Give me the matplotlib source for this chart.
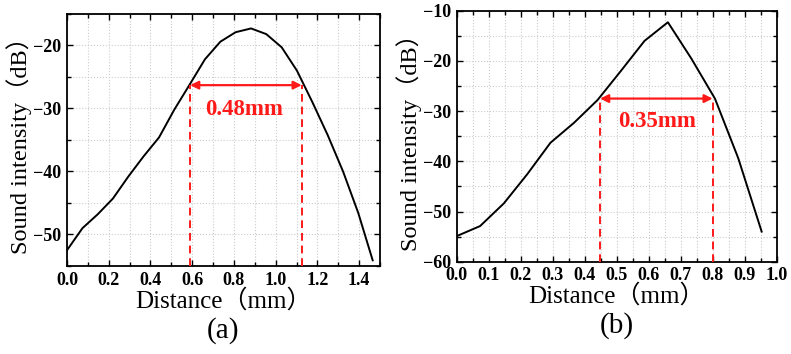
import matplotlib
matplotlib.use('Agg')
import matplotlib.pyplot as plt
from matplotlib.ticker import MultipleLocator

plt.rcParams['font.family'] = ['Liberation Serif', 'Noto Sans CJK SC']
plt.rcParams['axes.unicode_minus'] = True

# panel (a)
xa = [0.0, 0.074, 0.147, 0.22, 0.294, 0.367, 0.441, 0.514, 0.588, 0.661, 0.735,
      0.808, 0.882, 0.955, 1.029, 1.102, 1.176, 1.249, 1.323, 1.396, 1.465]
ya = [-52.5, -49.0, -46.8, -44.3, -40.8, -37.6, -34.6, -30.2, -26.2, -22.2, -19.4,
      -17.9, -17.3, -18.2, -20.3, -24.0, -29.0, -34.2, -40.0, -46.6, -54.1]
fwhm_a = [0.59, 1.125]
lvl_a = -26.3
lbl_a = '0.48mm'

# panel (b)
xb = [0.0, 0.073, 0.147, 0.22, 0.293, 0.367, 0.44, 0.513, 0.587, 0.66,
      0.733, 0.807, 0.88, 0.953]
yb = [-54.9, -52.9, -48.4, -42.6, -36.3, -32.3, -27.8, -22.0, -16.0, -12.3,
      -19.5, -27.5, -39.4, -54.0]
fwhm_b = [0.448, 0.80]
lvl_b = -27.5
lbl_b = '0.35mm'

fig = plt.figure(figsize=(7.91, 3.54), dpi=100)
ax1 = fig.add_axes([0.0847, 0.2486, 0.3957, 0.712])
ax2 = fig.add_axes([0.5774, 0.2607, 0.4045, 0.709])

red = '#ff1a1a'

def panel(ax, x, y, fw, lvl, lbl, xlim, ylim, xmaj, xmin, ymaj, tag, txy):
    ax.plot(x, y, color='black', lw=1.4, zorder=3)
    ax.set_xlim(*xlim)
    ax.set_ylim(*ylim)
    ax.xaxis.set_major_locator(MultipleLocator(xmaj))
    ax.xaxis.set_minor_locator(MultipleLocator(xmin))
    ax.yaxis.set_major_locator(MultipleLocator(ymaj))
    ax.yaxis.set_minor_locator(MultipleLocator(ymaj / 2))
    ax.xaxis.set_major_formatter(lambda v, p: f'{v:.1f}')
    ax.yaxis.set_major_formatter(lambda v, p: f'\u2212{abs(v):.0f}' if v < 0 else f'{v:.0f}')
    ax.grid(True, which='both', color='#cccccc', ls=':', lw=0.8)
    ax.tick_params(which='both', direction='in', top=True, right=True, width=1.0)
    ax.tick_params(which='major', length=4, pad=4)
    ax.tick_params(which='minor', length=3)
    for lab in ax.get_xticklabels() + ax.get_yticklabels():
        lab.set_fontweight('bold')
        lab.set_fontsize(13)
    for s in ax.spines.values():
        s.set_linewidth(1.3)
    for xv in fw:
        ax.plot([xv, xv], [ylim[0], lvl], color=red, ls='--', lw=1.4, dashes=(4, 2.5), zorder=4)
    ax.annotate('', xy=(fw[1], lvl), xytext=(fw[0], lvl),
                arrowprops=dict(arrowstyle='<|-|>', color=red, lw=1.6, mutation_scale=12,
                                shrinkA=0, shrinkB=0), zorder=5)
    ax.text(txy[0], txy[1], lbl, color=red, fontsize=16.5, fontweight='bold',
            ha='center', va='center', zorder=5)
    ax.set_xlabel('Distance（mm）', fontsize=18, labelpad=0)
    ax.set_ylabel('Sound intensity（dB）', fontsize=17.5, labelpad=1)
    ax.text(0.5, -0.255, tag, transform=ax.transAxes, fontsize=21,
            ha='center', va='center')

panel(ax1, xa, ya, fwhm_a, lvl_a, lbl_a, (0, 1.5), (-55, -15), 0.2, 0.1, 10, '(a)', (0.85, -30.2))
panel(ax2, xb, yb, fwhm_b, lvl_b, lbl_b, (0, 1.0), (-60, -10), 0.1, 0.05, 10, '(b)', (0.625, -32.1))

fig.savefig('out.png', dpi=100, facecolor='white')
